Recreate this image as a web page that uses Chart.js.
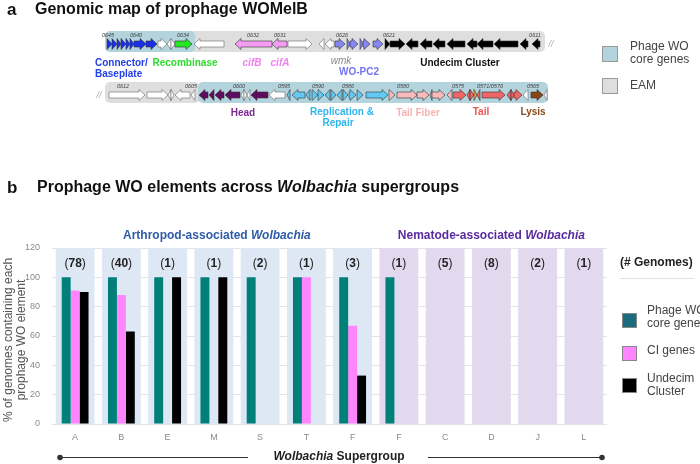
<!DOCTYPE html>
<html>
<head>
<meta charset="utf-8">
<script src="https://cdn.jsdelivr.net/npm/chart.js@4.4.1/dist/chart.umd.min.js"></script>
<style>
  html, body { margin: 0; padding: 0; background: #fff; }
  #wrap { position: relative; width: 700px; height: 464px; }
  canvas { position: absolute; left: 0; top: 0; }
</style>
</head>
<body>
<div id="wrap">
  <canvas id="bars" width="700" height="464"></canvas>
  <canvas id="map" width="700" height="130"></canvas>
</div>
<script>
// ---- panel b data ----
const supergroups = ['A', 'B', 'E', 'M', 'S', 'T', 'F', 'F', 'C', 'D', 'J', 'L'];
const hostGroup = ['arthropod', 'arthropod', 'arthropod', 'arthropod', 'arthropod', 'arthropod', 'arthropod',
                   'nematode', 'nematode', 'nematode', 'nematode', 'nematode'];
const genomeCounts = [78, 40, 1, 1, 2, 1, 3, 1, 5, 8, 2, 1];
const coreGenes = [100, 100, 100, 100, 100, 100, 100, 100, 0, 0, 0, 0];
const ciGenes = [91, 88, 0, 0, 0, 100, 67, 0, 0, 0, 0, 0];
const undecimCluster = [90, 63, 100, 100, 0, 0, 33, 0, 0, 0, 0, 0];
const yTicks = [0, 20, 40, 60, 80, 100, 120];

// ---- panel a data (map position units, start/end/strand/module) ----
const row1Boxes = [[105, 545, 'eam'], [105, 195, 'core']];
const row2Boxes = [[105, 200, 'eam'], [198, 548, 'core']];
const row1Genes = [
  [107, 112, 'R', 'conn'], [112, 117, 'R', 'conn'], [117, 121, 'R', 'conn'], [121, 126, 'R', 'conn'],
  [126, 130, 'R', 'conn'], [130, 134, 'R', 'conn'], [134, 146, 'R', 'conn'], [146, 157, 'R', 'conn'],
  [158, 167, 'R', 'none'], [167, 171, 'L', 'none'], [171, 175, 'R', 'none'], [175, 192, 'R', 'recomb'],
  [194, 224, 'L', 'none'], [235, 272, 'L', 'cif'], [272, 287, 'L', 'cif'], [288, 312, 'R', 'none'],
  [319, 324, 'L', 'none'], [325, 334, 'L', 'none'],
  [335, 345, 'R', 'pc2'], [347, 350, 'R', 'pc2'], [350, 358, 'R', 'pc2'], [360, 363, 'R', 'pc2'],
  [363, 370, 'R', 'pc2'], [373, 383, 'R', 'pc2'],
  [385, 390, 'R', 'undecim'], [390, 405, 'R', 'undecim'], [406, 418, 'L', 'undecim'], [420, 432, 'L', 'undecim'],
  [433, 445, 'L', 'undecim'], [447, 465, 'L', 'undecim'], [467, 477, 'L', 'undecim'], [477, 493, 'L', 'undecim'],
  [494, 518, 'L', 'undecim'], [520, 528, 'L', 'undecim'], [532, 540, 'L', 'undecim']
];
const row2Genes = [
  [109, 145, 'R', 'none'], [147, 168, 'R', 'none'], [168, 171, 'L', 'none'], [171, 174, 'R', 'none'],
  [175, 190, 'L', 'none'], [191, 195, 'L', 'none'],
  [199, 208, 'L', 'head'], [209, 214, 'L', 'head'], [215, 224, 'L', 'head'], [225, 240, 'L', 'head'],
  [241, 244, 'L', 'none'], [244, 247, 'R', 'none'], [247, 250, 'L', 'none'], [251, 268, 'L', 'head'],
  [269, 285, 'L', 'none'],
  [287, 290, 'L', 'rep'], [292, 305, 'L', 'rep'], [306, 310, 'L', 'rep'], [312, 318, 'R', 'rep'],
  [318, 324, 'R', 'rep'], [325, 330, 'L', 'rep'], [331, 336, 'R', 'rep'], [337, 342, 'L', 'rep'],
  [343, 348, 'R', 'rep'], [349, 356, 'R', 'rep'], [357, 363, 'R', 'rep'], [366, 388, 'R', 'rep'],
  [389, 395, 'R', 'fiber'], [397, 417, 'R', 'fiber'], [417, 429, 'R', 'fiber'], [430, 432, 'L', 'fiber'],
  [432, 445, 'R', 'fiber'], [447, 452, 'L', 'fiber'],
  [453, 466, 'R', 'tail'], [467, 470, 'L', 'tail'], [470, 474, 'R', 'tail'], [474, 477, 'R', 'orange'],
  [477, 480, 'L', 'tail'], [482, 505, 'R', 'tail'], [507, 511, 'L', 'tail'], [511, 514, 'R', 'tail'],
  [514, 522, 'R', 'tail'], [523, 528, 'L', 'none'], [531, 543, 'R', 'lysis'], [544, 547, 'L', 'none']
];
const row1Tags = [['0645', 108], ['0640', 136], ['0634', 183], ['0632', 253], ['0631', 280],
                  ['0626', 342], ['0621', 389], ['0611', 535]];
const row2Tags = [['0612', 123], ['0605', 191], ['0600', 239], ['0595', 284], ['0590', 318],
                  ['0586', 348], ['0580', 403], ['0575', 458], ['0571/0570', 490], ['0565', 533]];
const rowY = [44, 95];

const FONT = '"Liberation Sans", Arial, sans-serif';
const geneColors = {
  none: '#ffffff', conn: '#1b2fe6', recomb: '#26e626', cif: '#f59cf3', pc2: '#8787f2',
  undecim: '#000000', head: '#5e0c5e', rep: '#62c9f2', fiber: '#f8baba', tail: '#f06666',
  orange: '#f2a23a', lysis: '#8a4515'
};
const boxColors = { core: '#b4d4dd', eam: '#dedede' };

// draw a line of mixed-style text
function drawRuns(ctx, runs, x, y, align) {
  let total = 0;
  runs.forEach(r => { ctx.font = r[1]; total += ctx.measureText(r[0]).width; });
  let cx = align === 'center' ? x - total / 2 : (align === 'right' ? x - total : x);
  ctx.textAlign = 'left';
  ctx.textBaseline = 'middle';
  runs.forEach(r => {
    ctx.font = r[1];
    ctx.fillStyle = r[2];
    ctx.fillText(r[0], cx, y);
    cx += ctx.measureText(r[0]).width;
  });
}

function roundRect(ctx, x, y, w, h, r) {
  ctx.beginPath();
  ctx.moveTo(x + r, y);
  ctx.arcTo(x + w, y, x + w, y + h, r);
  ctx.arcTo(x + w, y + h, x, y + h, r);
  ctx.arcTo(x, y + h, x, y, r);
  ctx.arcTo(x, y, x + w, y, r);
  ctx.closePath();
}

function geneArrow(ctx, x1, x2, yc, dir) {
  const hl = Math.min(6, x2 - x1), bh = 3, hh = 5.5;
  ctx.beginPath();
  if (dir === 'R') {
    ctx.moveTo(x1, yc - bh); ctx.lineTo(x2 - hl, yc - bh); ctx.lineTo(x2 - hl, yc - hh);
    ctx.lineTo(x2, yc); ctx.lineTo(x2 - hl, yc + hh); ctx.lineTo(x2 - hl, yc + bh); ctx.lineTo(x1, yc + bh);
  } else {
    ctx.moveTo(x2, yc - bh); ctx.lineTo(x1 + hl, yc - bh); ctx.lineTo(x1 + hl, yc - hh);
    ctx.lineTo(x1, yc); ctx.lineTo(x1 + hl, yc + hh); ctx.lineTo(x1 + hl, yc + bh); ctx.lineTo(x2, yc + bh);
  }
  ctx.closePath();
  ctx.fill();
  ctx.stroke();
}

// ---- panel a: genome map drawn on linear scales ----
const mapPlugin = {
  id: 'genomeMap',
  afterDraw(chart) {
    const { ctx, scales: { x, y } } = chart;
    ctx.save();
    drawRuns(ctx, [['a', 'bold 17px ' + FONT, '#111']], 7, 10, 'left');
    drawRuns(ctx, [['Genomic map of prophage WOMelB', 'bold 16px ' + FONT, '#111']], 35, 10, 'left');

    [[row1Boxes, row1Genes, row1Tags], [row2Boxes, row2Genes, row2Tags]].forEach(([boxes, genes, tags], r) => {
      const yc = y.getPixelForValue(rowY[r]);
      boxes.forEach(b => {
        const x1 = x.getPixelForValue(b[0]), x2 = x.getPixelForValue(b[1]);
        ctx.fillStyle = boxColors[b[2]];
        roundRect(ctx, x1, yc - 13, x2 - x1, 21, 5);
        ctx.fill();
      });
      ctx.lineWidth = 0.6;
      genes.forEach(g => {
        ctx.fillStyle = geneColors[g[3]];
        ctx.strokeStyle = g[3] === 'none' ? '#666' : '#333';
        geneArrow(ctx, x.getPixelForValue(g[0]), x.getPixelForValue(g[1]), yc, g[2]);
      });
      tags.forEach(t => {
        drawRuns(ctx, [[t[0], 'italic 5.5px ' + FONT, '#444']], x.getPixelForValue(t[1]), yc - 9, 'center');
      });
    });
    drawRuns(ctx, [['//', 'italic 9px ' + FONT, '#aaa']], x.getPixelForValue(551), y.getPixelForValue(rowY[0]), 'center');
    drawRuns(ctx, [['//', 'italic 9px ' + FONT, '#aaa']], x.getPixelForValue(99), y.getPixelForValue(rowY[1]), 'center');

    const B = 'bold 10px ' + FONT, BI = 'italic bold 10px ' + FONT;
    drawRuns(ctx, [['Connector/', B, '#2340e8']], 95, 63, 'left');
    drawRuns(ctx, [['Baseplate', B, '#2340e8']], 95, 74, 'left');
    drawRuns(ctx, [['Recombinase', B, '#2bdc2b']], 185, 63, 'center');
    drawRuns(ctx, [['cifB', BI, '#f27ff0']], 252, 63, 'center');
    drawRuns(ctx, [['cifA', BI, '#f27ff0']], 280, 63, 'center');
    drawRuns(ctx, [['wmk', 'italic 10px ' + FONT, '#888']], 341, 61, 'center');
    drawRuns(ctx, [['WO-PC2', B, '#7474f0']], 359, 72, 'center');
    drawRuns(ctx, [['Undecim Cluster', B, '#111']], 460, 63, 'center');
    drawRuns(ctx, [['Head', B, '#7a2a90']], 243, 113, 'center');
    drawRuns(ctx, [['Replication &', B, '#2fb4ee']], 342, 112, 'center');
    drawRuns(ctx, [['Repair', B, '#2fb4ee']], 338, 123, 'center');
    drawRuns(ctx, [['Tail Fiber', B, '#f7b2b2']], 418, 113, 'center');
    drawRuns(ctx, [['Tail', B, '#ee5252']], 481, 112, 'center');
    drawRuns(ctx, [['Lysis', B, '#8b4a1a']], 533, 112, 'center');

    // module legend
    const R = '12px ' + FONT;
    ctx.strokeStyle = '#999'; ctx.lineWidth = 1;
    ctx.fillStyle = boxColors.core; ctx.fillRect(602.5, 46.5, 15, 15); ctx.strokeRect(602.5, 46.5, 15, 15);
    ctx.fillStyle = boxColors.eam; ctx.fillRect(602.5, 78.5, 15, 15); ctx.strokeRect(602.5, 78.5, 15, 15);
    drawRuns(ctx, [['Phage WO', R, '#444']], 630, 47, 'left');
    drawRuns(ctx, [['core genes', R, '#444']], 630, 60, 'left');
    drawRuns(ctx, [['EAM', R, '#444']], 630, 86, 'left');
    ctx.restore();
  }
};

new Chart(document.getElementById('map'), {
  type: 'scatter',
  data: { datasets: [] },
  options: {
    responsive: false,
    animation: false,
    layout: { padding: 0 },
    plugins: { legend: { display: false }, tooltip: { enabled: false } },
    scales: {
      x: { type: 'linear', min: 0, max: 700, display: false },
      y: { type: 'linear', min: 0, max: 130, reverse: true, display: false }
    }
  },
  plugins: [mapPlugin]
});

// ---- panel b: bar chart ----
const bandPlugin = {
  id: 'bands',
  beforeDatasetsDraw(chart) {
    const { ctx, scales: { x, y } } = chart;
    const step = x.getPixelForValue(1) - x.getPixelForValue(0);
    const top = y.getPixelForValue(120), bottom = y.getPixelForValue(0);
    ctx.save();
    hostGroup.forEach((g, i) => {
      ctx.fillStyle = g === 'arthropod' ? '#dde8f4' : '#e3d9ee';
      ctx.fillRect(x.getPixelForValue(i) - step * 0.42, top, step * 0.84, bottom - top);
    });
    ctx.restore();
  }
};

const annotatePlugin = {
  id: 'annotate',
  afterDraw(chart) {
    const { ctx, chartArea, scales: { x, y } } = chart;
    ctx.save();
    drawRuns(ctx, [['b', 'bold 17px ' + FONT, '#111']], 7, 188, 'left');
    drawRuns(ctx, [['Prophage WO elements across ', 'bold 16px ' + FONT, '#111'],
                   ['Wolbachia', 'italic bold 16px ' + FONT, '#111'],
                   [' supergroups', 'bold 16px ' + FONT, '#111']], 37, 188, 'left');

    // genome counts
    genomeCounts.forEach((n, i) => {
      drawRuns(ctx, [['(', '12px ' + FONT, '#222'], [String(n), 'bold 12px ' + FONT, '#222'], [')', '12px ' + FONT, '#222']],
        x.getPixelForValue(i), y.getPixelForValue(109.5), 'center');
    });

    // host group headers
    const idxA = hostGroup.map((g, i) => g === 'arthropod' ? i : -1).filter(i => i >= 0);
    const idxN = hostGroup.map((g, i) => g === 'nematode' ? i : -1).filter(i => i >= 0);
    const mid = idx => (x.getPixelForValue(idx[0]) + x.getPixelForValue(idx[idx.length - 1])) / 2;
    drawRuns(ctx, [['Arthropod-associated ', 'bold 12px ' + FONT, '#2f5ba8'],
                   ['Wolbachia', 'italic bold 12px ' + FONT, '#2f5ba8']], mid(idxA) + 3, chartArea.top - 12, 'center');
    drawRuns(ctx, [['Nematode-associated ', 'bold 12px ' + FONT, '#5a2ba0'],
                   ['Wolbachia', 'italic bold 12px ' + FONT, '#5a2ba0']], mid(idxN), chartArea.top - 12, 'center');

    // y axis title
    ctx.save();
    ctx.translate(15, (chartArea.top + chartArea.bottom) / 2 + 4);
    ctx.rotate(-Math.PI / 2);
    drawRuns(ctx, [['% of genomes containing each', '12px ' + FONT, '#555']], 0, -6, 'center');
    drawRuns(ctx, [['prophage WO element', '12px ' + FONT, '#555']], 0, 7, 'center');
    ctx.restore();

    // x axis title with end lines
    const ty = 457;
    drawRuns(ctx, [['Wolbachia', 'italic bold 12px ' + FONT, '#222'],
                   [' Supergroup', 'bold 12px ' + FONT, '#222']], 339, ty, 'center');
    ctx.strokeStyle = '#333'; ctx.lineWidth = 1;
    ctx.beginPath(); ctx.moveTo(60, ty + 0.5); ctx.lineTo(248, ty + 0.5);
    ctx.moveTo(428, ty + 0.5); ctx.lineTo(602, ty + 0.5); ctx.stroke();
    ctx.fillStyle = '#333';
    [60, 602].forEach(px => { ctx.beginPath(); ctx.arc(px, ty + 0.5, 2.8, 0, Math.PI * 2); ctx.fill(); });

    // legend
    drawRuns(ctx, [['(# Genomes)', 'bold 12px ' + FONT, '#222']], 620, 263, 'left');
    ctx.strokeStyle = '#e2e2e2';
    ctx.beginPath(); ctx.moveTo(620, 278.5); ctx.lineTo(694, 278.5); ctx.stroke();
    const legendY = [[313, ['Phage WO', 'core genes'], 311], [346, ['CI genes'], 351], [378, ['Undecim', 'Cluster'], 379]];
    chart.data.datasets.forEach((ds, i) => {
      const [sy, lines, ly] = legendY[i];
      ctx.fillStyle = i === 0 ? '#1b6c7e' : ds.backgroundColor;
      ctx.fillRect(622.5, sy + 0.5, 14, 14);
      ctx.strokeStyle = '#888'; ctx.lineWidth = 1;
      ctx.strokeRect(622.5, sy + 0.5, 14, 14);
      lines.forEach((t, k) => drawRuns(ctx, [[t, '12px ' + FONT, '#444']], 647, ly + k * 12.5, 'left'));
    });
    ctx.restore();
  }
};

new Chart(document.getElementById('bars'), {
  type: 'bar',
  data: {
    labels: supergroups,
    datasets: [
      { label: 'Phage WO core genes', data: coreGenes, backgroundColor: '#008079' },
      { label: 'CI genes', data: ciGenes, backgroundColor: '#ff85ff' },
      { label: 'Undecim Cluster', data: undecimCluster, backgroundColor: '#000000' }
    ]
  },
  options: {
    responsive: false,
    animation: false,
    layout: { padding: { left: 0, right: 93, top: 248, bottom: 20 } },
    datasets: { bar: { categoryPercentage: 0.58, barPercentage: 1.0 } },
    plugins: { legend: { display: false }, tooltip: { enabled: false } },
    scales: {
      x: {
        grid: { display: false, drawTicks: false },
        border: { display: false },
        ticks: { color: '#8a8a8a', font: { size: 9, family: FONT }, padding: 8 },
        afterFit: s => { s.height = 20; }
      },
      y: {
        min: 0, max: 120,
        grid: { color: '#e4e4e4', drawTicks: false },
        border: { display: false },
        ticks: { color: '#8a8a8a', font: { size: 9, family: FONT }, padding: 12 },
        afterBuildTicks: s => { s.ticks = yTicks.map(v => ({ value: v })); },
        afterFit: s => { s.width = 52; }
      }
    }
  },
  plugins: [bandPlugin, annotatePlugin]
});
</script>
</body>
</html>
